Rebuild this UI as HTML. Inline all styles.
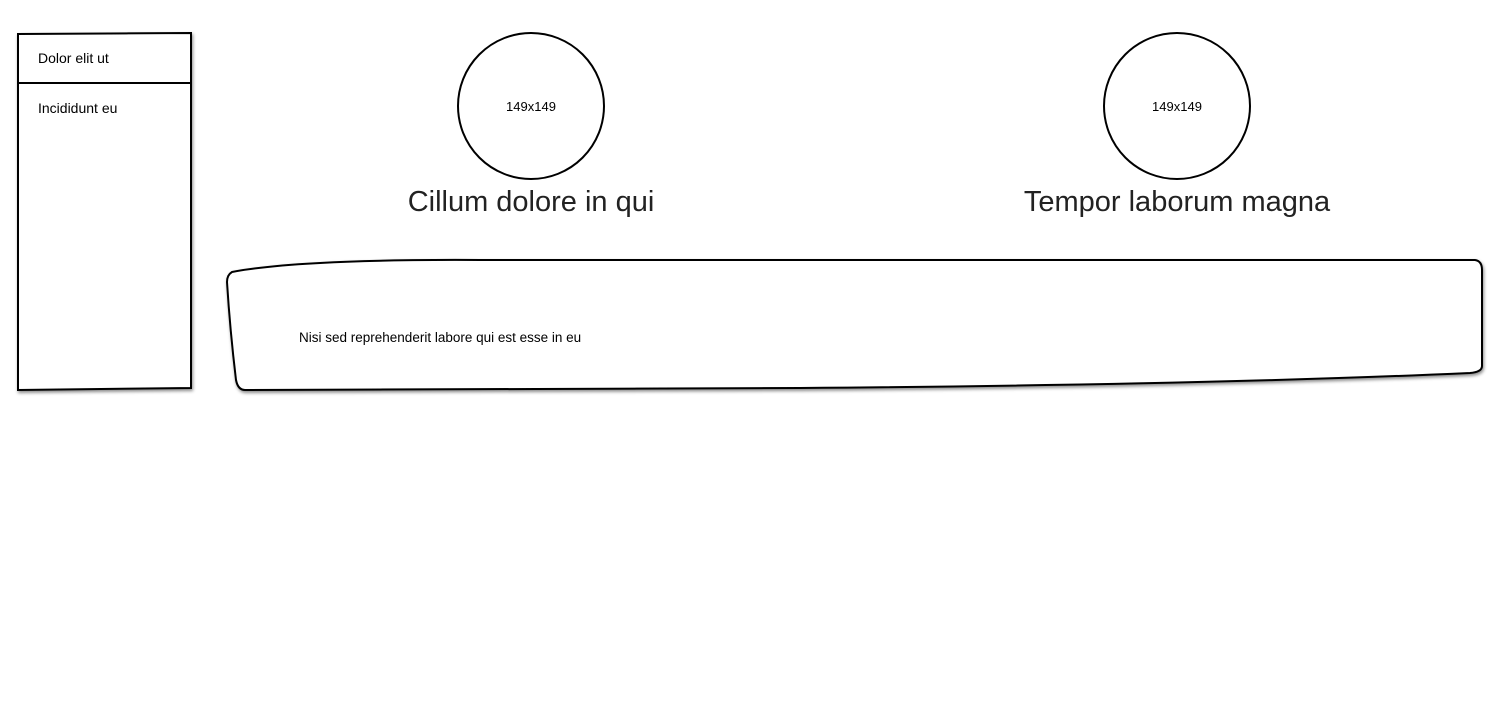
<!DOCTYPE html>
<html>
<head>
<meta charset="utf-8">
<style>
html,body{margin:0;padding:0;background:#fff;width:1500px;height:720px;overflow:hidden;}
svg{display:block;font-family:"Liberation Sans",sans-serif;}
</style>
</head>
<body>
<svg width="1500" height="720" viewBox="0 0 1500 720">
  <defs>
    <filter id="sh" x="-5%" y="-5%" width="110%" height="115%">
      <feDropShadow dx="1" dy="2" stdDeviation="1.5" flood-color="#000" flood-opacity="0.45"/>
    </filter>
  </defs>
  <g>
    <path d="M18,34 L191,33 L191,388 L18,390 Z" fill="#fff" stroke="#000" stroke-width="2" filter="url(#sh)"/>
    <line x1="18" y1="83" x2="191" y2="83" stroke="#000" stroke-width="2"/>
    <text x="38" y="63" font-size="14" fill="#000">Dolor elit ut</text>
    <text x="38" y="113" font-size="14" fill="#000">Incididunt eu</text>
  </g>
  <g>
    <circle cx="531" cy="106" r="73" fill="#fff" stroke="#000" stroke-width="2"/>
    <text x="531" y="111" font-size="13" text-anchor="middle" fill="#000">149x149</text>
  </g>
  <text x="531" y="211" font-size="29" text-anchor="middle" fill="#222">Cillum dolore in qui</text>
  <g>
    <circle cx="1177" cy="106" r="73" fill="#fff" stroke="#000" stroke-width="2"/>
    <text x="1177" y="111" font-size="13" text-anchor="middle" fill="#000">149x149</text>
  </g>
  <text x="1177" y="211" font-size="29" text-anchor="middle" fill="#222">Tempor laborum magna</text>
  <g>
    <path d="M232,272 Q300,259 480,260 L1475,260 Q1482,261 1482,270 L1482,366 Q1482,372 1470,373 Q1200,385 800,388 L245,390 Q238,390 236,380 Q230,330 227,282 Q227,275 232,272 Z" fill="#fff" stroke="#000" stroke-width="2" filter="url(#sh)"/>
    <text x="299" y="342" font-size="13.5" fill="#000">Nisi sed reprehenderit labore qui est esse in eu</text>
  </g>
</svg>
</body>
</html>
